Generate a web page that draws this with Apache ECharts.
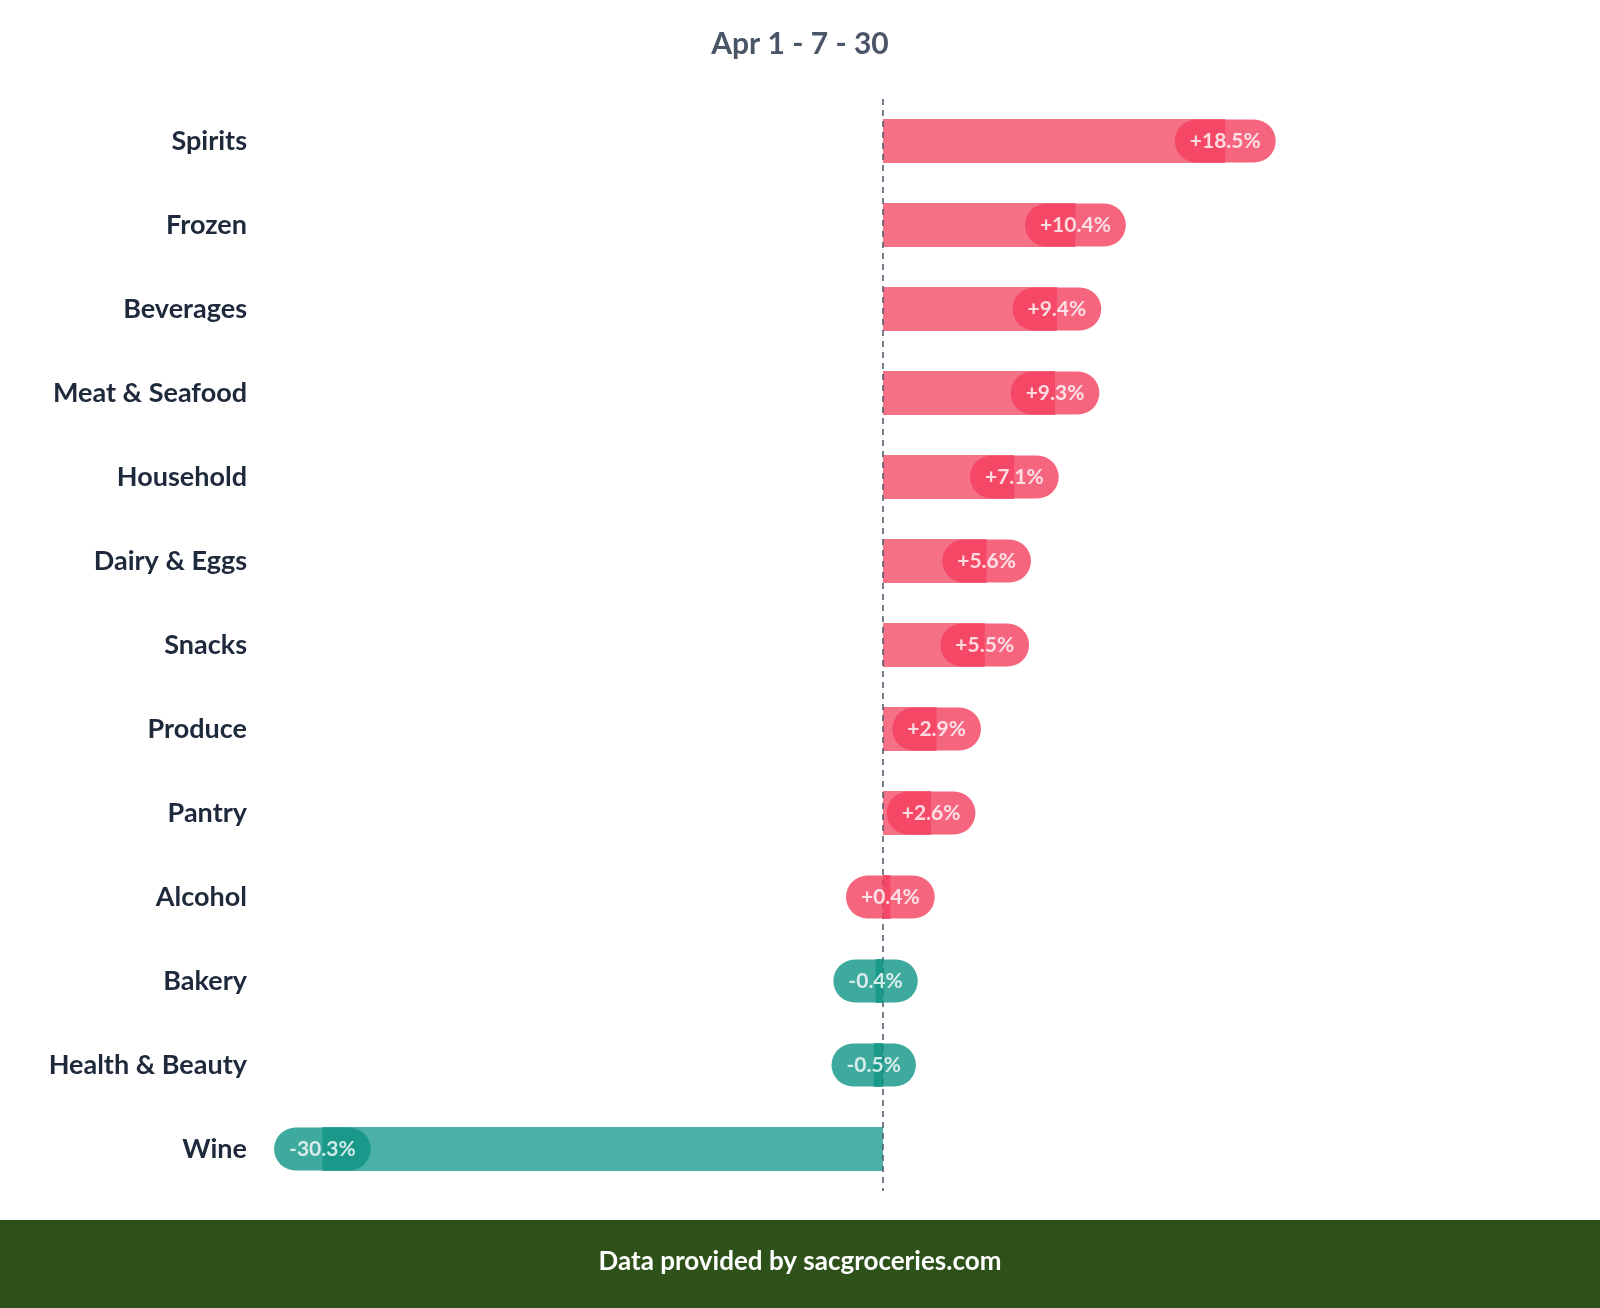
<!DOCTYPE html>
<html><head><meta charset="utf-8">
<script src="https://cdn.jsdelivr.net/npm/echarts@6/dist/echarts.min.js"></script>
<style>html,body{margin:0;padding:0;background:#fff}#c{width:1600px;height:1308px}</style>
</head><body><div id="c"></div>
<script>
const categories = ["Spirits","Frozen","Beverages","Meat & Seafood","Household","Dairy & Eggs","Snacks","Produce","Pantry","Alcohol","Bakery","Health & Beauty","Wine"];
const values = [18.5,10.4,9.4,9.3,7.1,5.6,5.5,2.9,2.6,0.4,-0.4,-0.5,-30.3];
const title = "Apr 1 - 7 - 30";
const footer = "Data provided by sacgroceries.com";

const font = "Lato";
const chart = echarts.init(document.getElementById('c'));
const fmt = v => (v > 0 ? '+' : '') + v.toFixed(1) + '%';
chart.setOption({
  animation:false,
  title:{text:title,left:'center',top:24,textStyle:{fontFamily:font,fontSize:30,fontWeight:'bold',color:'#4a5568'}},
  grid:{left:265,right:347,top:99,bottom:117},
  xAxis:{type:'value',min:-33.4,max:20,show:false},
  yAxis:{type:'category',data:categories,inverse:true,axisLine:{show:false},axisTick:{show:false},
    axisLabel:{fontFamily:font,fontSize:27,fontWeight:'bold',color:'#1e293b',margin:18}},
  series:[
    {type:'bar',barWidth:44,data:values.map(v=>({value:v,itemStyle:{color:v>=0?'#f77186':'#4bb0a6'}})),
     markLine:{silent:true,symbol:'none',label:{show:false},lineStyle:{type:[6,5],color:'#4a5568',width:1.5},data:[{xAxis:0}]}},
    {type:'scatter',symbolSize:0,z:5,data:values,
     label:{show:true,position:'inside',formatter:p=>fmt(p.value),
       fontFamily:font,fontSize:21,fontWeight:'bold',color:'#fff',
       padding:[11,15],borderRadius:22,
       backgroundColor:p=>'#000'},
     itemStyle:{color:'transparent'}}
  ],
  graphic:[
    {type:'rect',left:0,top:1220,shape:{width:1600,height:88},style:{fill:'#2d5118'}},
    {type:'text',left:'center',top:1249,style:{text:footer,fill:'#fff',font:'bold 26px Lato'}}
  ]
});
// per-point label background colours
chart.setOption({series:[{},{data:values.map(v=>({value:v,label:{backgroundColor:v>=0?'#f43f5e':'#0e9384'}}))}]});
</script></body></html>
